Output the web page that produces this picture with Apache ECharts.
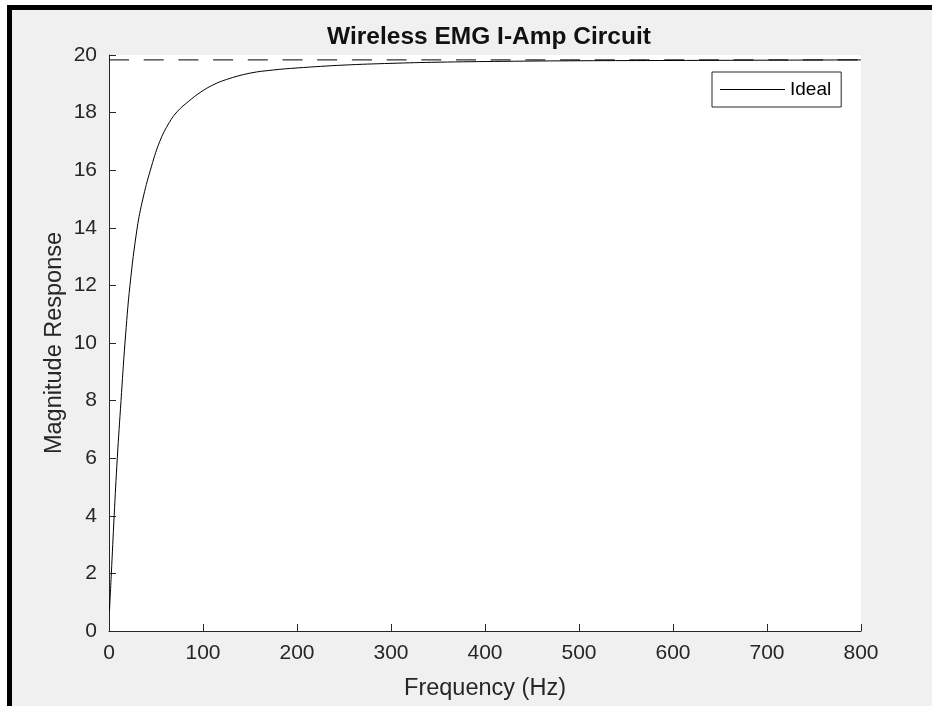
<!DOCTYPE html>
<html>
<head>
<meta charset="utf-8">
<script src="https://cdn.jsdelivr.net/npm/echarts@6/dist/echarts.min.js"></script>
<style>
  html, body { margin: 0; padding: 0; background: #ffffff; }
  #main { width: 932px; height: 706px; }
</style>
</head>
<body>
<div id="main"></div>
<script>
// values
const freqHz = [0.5, 2.5, 5.5, 8.8, 12.8, 17, 22.3, 30, 36, 44, 54, 64, 73, 85, 97, 110, 125, 150, 175, 200, 250, 300, 350, 420, 500, 600, 700, 800];
const magResp = [0.7, 2.0, 4.0, 6.0, 8.0, 10.0, 12.0, 14.0, 15.0, 16.0, 17.0, 17.65, 18.05, 18.4, 18.7, 18.95, 19.15, 19.37, 19.48, 19.55, 19.65, 19.71, 19.75, 19.78, 19.8, 19.81, 19.82, 19.83];
const idealLevel = 19.83;
const xRange = [0, 800];

const FONT = "'Liberation Sans', Arial, Helvetica, sans-serif";
const INK = "#262626";

const chart = echarts.init(document.getElementById("main"), null, { renderer: "canvas" });

const option = {
  backgroundColor: "#f0f0f0",
  animation: false,
  title: {
    text: "Wireless EMG I-Amp Circuit",
    left: 484,
    textAlign: "center",
    top: 20,
    textStyle: { fontFamily: FONT, fontSize: 24.5, fontWeight: "bold", color: "#111111" },
  },
  legend: {
    data: [{ name: "Ideal", icon: "rect" }],
    left: 712,
    top: 72,
    padding: [8, 10, 8, 8],
    backgroundColor: "#ffffff",
    borderColor: INK,
    borderWidth: 1,
    itemWidth: 65,
    itemHeight: 1,
    textStyle: { fontFamily: FONT, fontSize: 19, lineHeight: 16, color: "#000000" },
  },
  grid: {
    left: 109,
    right: 71,
    top: 55,
    bottom: 75,
    show: true,
    backgroundColor: "#ffffff",
    borderWidth: 0,
  },
  xAxis: {
    type: "value",
    min: xRange[0],
    max: xRange[1],
    interval: 100,
    name: "Frequency (Hz)",
    nameLocation: "middle",
    nameGap: 46,
    nameTextStyle: { fontFamily: FONT, fontSize: 23.5, color: INK },
    axisLine: { show: true, lineStyle: { color: INK, width: 1 } },
    axisTick: { show: true, inside: true, length: 7, lineStyle: { color: INK } },
    axisLabel: { fontFamily: FONT, fontSize: 21, color: INK, margin: 12 },
    splitLine: { show: false },
  },
  yAxis: {
    type: "value",
    min: 0,
    max: 20,
    interval: 2,
    name: "Magnitude Response",
    nameLocation: "middle",
    nameGap: 42,
    nameMoveOverlap: false,
    nameTextStyle: { fontFamily: FONT, fontSize: 23.5, color: INK },
    axisLine: { show: true, lineStyle: { color: INK, width: 1 } },
    axisTick: { show: true, inside: true, length: 7, lineStyle: { color: INK } },
    axisLabel: { fontFamily: FONT, fontSize: 21, color: INK, margin: 12 },
    splitLine: { show: false },
  },
  series: [
    {
      name: "Ideal",
      type: "line",
      data: freqHz.map((f, i) => [f, magResp[i]]),
      showSymbol: false,
      symbol: "none",
      smooth: 0.4,
      lineStyle: { color: "#000000", width: 1 },
      itemStyle: { color: "#000000" },
      z: 3,
    },
    {
      name: "level",
      type: "line",
      data: [[xRange[0], idealLevel], [xRange[1], idealLevel]],
      symbol: "none",
      lineStyle: { color: "#000000", width: 1, type: [20, 14.7] },
      z: 2,
    },
  ],
  // the black frame from the screenshot
  graphic: [
    { type: "rect", left: 0, top: 0, shape: { width: 932, height: 5 }, style: { fill: "#ffffff" } },
    { type: "rect", left: 0, top: 0, shape: { width: 7, height: 706 }, style: { fill: "#ffffff" } },
    { type: "rect", left: 7, top: 5, shape: { width: 925, height: 5 }, style: { fill: "#000000" } },
    { type: "rect", left: 7, top: 5, shape: { width: 5, height: 701 }, style: { fill: "#000000" } },
  ],
};

chart.setOption(option);
</script>
</body>
</html>
